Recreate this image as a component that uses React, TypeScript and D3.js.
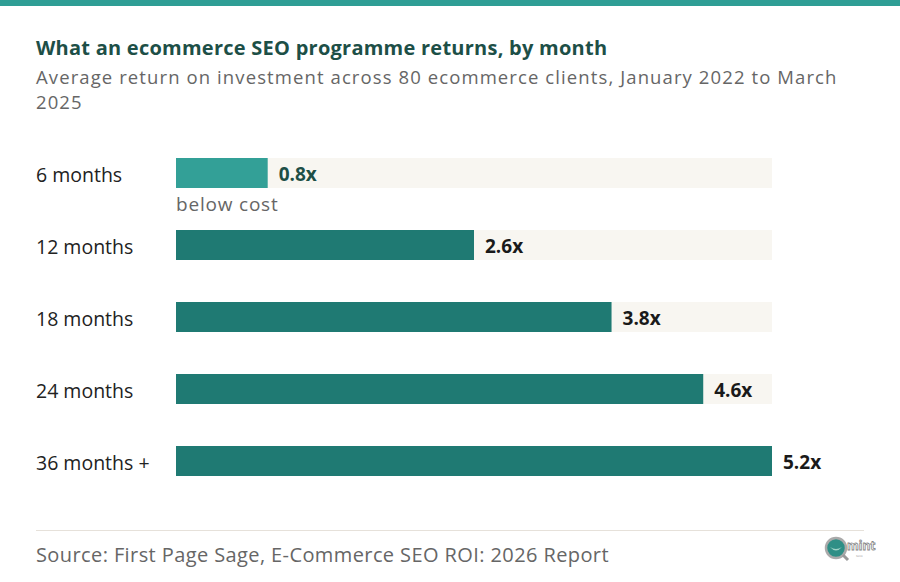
import React from "react";
import * as d3 from "d3";

const categories = ["6 months", "12 months", "18 months", "24 months", "36 months +"];
const values = [0.8, 2.6, 3.8, 4.6, 5.2];
const valueLabels = ["0.8x", "2.6x", "3.8x", "4.6x", "5.2x"];
const notes = ["below cost", "", "", "", ""];

const W = 900;
const H = 582;
const FONT = "'Open Sans', 'DejaVu Sans', sans-serif";

export default function App() {
  const x = d3.scaleLinear().domain([0, 5.2]).range([176, 772]);
  const yy = d3.scalePoint<string>().domain(categories).range([158, 446]);
  const bh = 30;
  const trackMax = 5.2;

  return (
    <div style={{ position: "fixed", left: 0, top: 0 }}>
      <svg width={W} height={H} style={{ display: "block", background: "#fff" }}>
        <rect x={0} y={0} width={W} height={6} fill="#2f9e95" />
        <text x={36} y={55} fontFamily={FONT} fontWeight={700} fontSize={20} letterSpacing={0.25} fill="#1d4f47">
          What an ecommerce SEO programme returns, by month
        </text>
        <text x={36} y={84} fontFamily={FONT} fontSize={18.5} letterSpacing={1.1} fill="#666">
          Average return on investment across 80 ecommerce clients, January 2022 to March
        </text>
        <text x={36} y={109} fontFamily={FONT} fontSize={18.5} letterSpacing={1.1} fill="#666">
          2025
        </text>
        {categories.map((c, i) => {
          const y0 = yy(c) as number;
          const first = i === 0;
          return (
            <g key={c}>
              <text x={36} y={y0 + bh / 2 + 8.5} fontFamily={FONT} fontSize={19.5} fill="#222">
                {c}
              </text>
              <rect x={x(0)} y={y0} width={x(trackMax) - x(0)} height={bh} fill="#f8f6f1" />
              <rect x={x(0)} y={y0} width={x(values[i]) - x(0)} height={bh} fill={first ? "#33a097" : "#1f7a73"} />
              <text
                x={x(values[i]) + 11}
                y={y0 + bh / 2 + 8}
                fontFamily={FONT}
                fontWeight={700}
                fontSize={19}
                fill={first ? "#1d4f47" : "#1a1a1a"}
              >
                {valueLabels[i]}
              </text>
              {notes[i] && (
                <text x={x(0)} y={y0 + bh + 23} fontFamily={FONT} fontSize={19} letterSpacing={0.8} fill="#666">
                  {notes[i]}
                </text>
              )}
            </g>
          );
        })}
        <line x1={36} x2={864} y1={530.5} y2={530.5} stroke="#e6e1da" strokeWidth={1} />
        <text x={36} y={562} fontFamily={FONT} fontSize={20} letterSpacing={0.4} fill="#666">
          Source: First Page Sage, E-Commerce SEO ROI: 2026 Report
        </text>
        <g transform="translate(836,548)">
          <circle r={10} fill="#2f8f86" stroke="#aaa" strokeWidth={2.5} />
          <path d="M-6,-1 Q0,6 6,-1 Q0,3 -6,-1" fill="#9fd3c7" />
          <line x1={7} y1={7} x2={12} y2={12} stroke="#999" strokeWidth={3} />
          <text x={11} y={2} fontFamily={FONT} fontWeight={700} fontSize={12} fill="#fff" stroke="#888" strokeWidth={0.8}>
            mint
          </text>
          <text x={20} y={9} fontFamily={FONT} fontSize={4} fill="#999">
            seo
          </text>
        </g>
      </svg>
    </div>
  );
}
